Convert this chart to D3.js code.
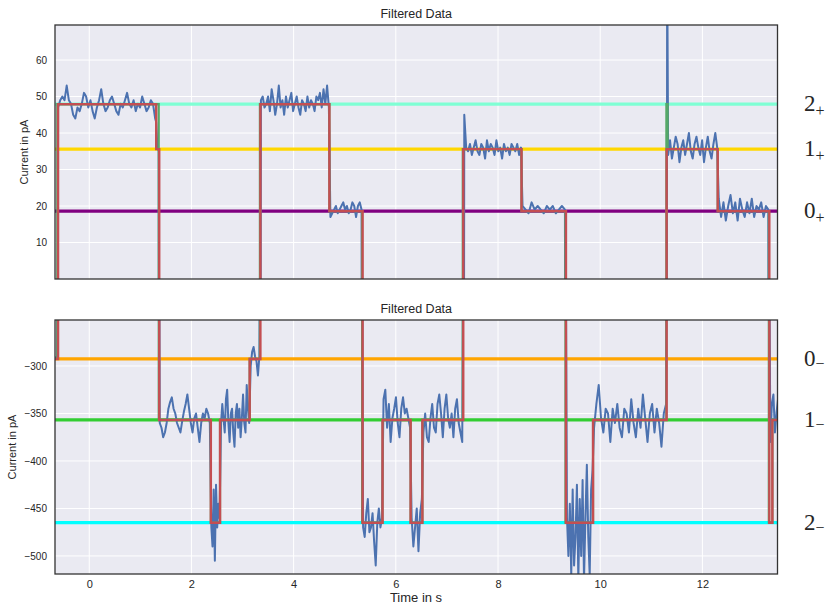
<!DOCTYPE html>
<html><head><meta charset="utf-8">
<script src="https://cdn.jsdelivr.net/npm/d3@7"></script>
<style>body{margin:0;background:#fff}svg{display:block}text{font-family:"Liberation Sans",Arial,sans-serif;fill:#262626}</style>
</head><body><svg id="c" width="837" height="605"></svg>
<script>
// ---- data ----
const xTicks = [0, 2, 4, 6, 8, 10, 12];
const topYTicks = [10, 20, 30, 40, 50, 60];
const botYTicks = [-300, -350, -400, -450, -500];
const topLevels = [47.9, 35.6, 18.6];
const topLevelNames = ["2", "1", "0"];
const topLevelColors = ["#7fffd4", "#ffd700", "#800080"];
const botLevels = [-292.6, -356.8, -465.0];
const botLevelNames = ["0", "1", "2"];
const botLevelColors = ["#ffa500", "#32cd32", "#00ffff"];

// blue trace: segments [t0, t1, values]
const blueSegments = [
  [-0.68, -0.63, [-292, -290]],
  [-0.61, 1.29, [47, 49, 50, 49, 53, 49, 48, 45, 44, 47, 46, 48, 51, 50, 47, 49, 46, 44, 47, 49, 52, 48, 46, 47, 49, 50, 48, 46, 45, 48, 47, 49, 51, 48, 47, 49, 46, 48, 47, 50, 48, 46, 47, 49, 48, 44]],
  [1.31, 1.36, [43, 36, 35]],
  [1.38, 2.36, [-360, -365, -375, -370, -360, -345, -338, -333, -345, -350, -360, -365, -370, -358, -348, -340, -330, -345, -360, -370, -355, -350, -365, -380, -360, -350, -355, -345, -350, -360]],
  [2.39, 2.55, [-470, -490, -430, -505, -425, -470, -445, -460]],
  [2.58, 3.13, [-360, -340, -355, -370, -335, -325, -360, -380, -350, -345, -370, -385, -350, -340, -365, -345, -375, -355, -330, -360, -370, -320, -345, -360]],
  [3.16, 3.33, [-300, -285, -280, -290, -295, -310, -290]],
  [3.36, 4.69, [49, 50, 47, 48, 50, 46, 52, 49, 45, 48, 53, 47, 49, 45, 50, 47, 49, 51, 46, 48, 50, 47, 45, 49, 48, 46, 50, 47, 49, 48, 46, 50, 49, 51, 47, 52, 48, 53, 47]],
  [4.72, 5.33, [17, 18, 19, 20, 18, 19, 20, 21, 19, 20, 18, 19, 21, 20, 17, 20, 21, 19]],
  [5.36, 5.73, [-470, -480, -455, -440, -475, -470, -455, -485, -510, -465, -450, -470, -460]],
  [5.76, 6.28, [-335, -325, -365, -340, -380, -355, -345, -333, -360, -375, -345, -333, -350, -345, -355, -365]],
  [6.31, 6.51, [-460, -490, -470, -450, -495, -455, -440]],
  [6.54, 7.30, [-370, -350, -375, -380, -355, -340, -365, -370, -340, -330, -350, -375, -345, -330, -355, -365, -350, -375, -345, -335, -360, -370, -380]],
  [7.34, 8.45, [45, 36, 35, 37, 34, 36, 38, 35, 34, 37, 36, 33, 38, 35, 37, 36, 34, 38, 35, 36, 33, 37, 35, 36, 34, 37, 36, 35, 37, 34, 36]],
  [8.48, 9.31, [20, 19, 18, 21, 19, 20, 19, 18, 20, 19, 20, 18, 19, 20, 19]],
  [9.35, 9.85, [-460, -500, -445, -520, -430, -510, -480, -425, -525, -440, -500, -420, -525, -460, -404, -480, -520, -430, -410]],
  [9.88, 11.29, [-365, -340, -320, -355, -370, -345, -350, -380, -345, -360, -340, -365, -375, -345, -350, -370, -335, -360, -375, -345, -365, -330, -355, -380, -350, -340, -370, -345, -360, -385, -350, -340]],
  [11.31, 11.31, [90]],
  [11.33, 12.29, [34, 38, 33, 36, 39, 37, 32, 36, 38, 34, 37, 40, 35, 33, 37, 39, 36, 34, 38, 32, 36, 39, 35, 33, 37, 40, 36]],
  [12.32, 13.29, [22, 17, 21, 16, 20, 23, 18, 21, 16, 22, 19, 17, 21, 18, 22, 17, 20, 19, 21, 17, 20, 19]],
  [13.33, 13.48, [-380, -340, -330, -370, -350, -335]]
];

// fitted step (red): change times and new levels
const fitTimes  = [-0.68, -0.61, 1.31, 1.37, 2.38, 2.56, 3.14, 3.35, 4.70, 5.35, 5.74, 6.29, 6.52, 7.32, 8.46, 9.33, 9.86, 11.30, 12.30, 13.31, 13.37, 13.48];
const fitLevels = [-292.6, 47.9, 35.6, -356.8, -465.0, -356.8, -292.6, 47.9, 18.6, -465.0, -356.8, -465.0, -356.8, 35.6, 18.6, -465.0, -356.8, 35.6, 18.6, -465.0, -356.8, -356.8];
// second estimate (green), mostly hidden beneath the red
const greenTimes  = [-0.68, -0.625, 1.36, 2.38, 2.56, 3.14, 3.34, 4.70, 5.34, 5.74, 6.29, 6.52, 7.31, 8.46, 9.32, 9.86, 11.295, 11.32, 12.30, 13.30, 13.37, 13.48];
const greenLevels = [-292.6, 47.9, -356.8, -465.0, -356.8, -292.6, 47.9, 18.6, -465.0, -356.8, -465.0, -356.8, 35.6, 18.6, -465.0, -356.8, 47.9, 35.6, 18.6, -465.0, -356.8, -356.8];

// ---- drawing ----
const svg = d3.select("#c");
const L = 55, R = 777.5;
const x = d3.scaleLinear().domain([-0.67, 13.47]).range([L, R]);

const bluePts = [];
blueSegments.forEach(([t0, t1, vals]) => {
  vals.forEach((v, i) => {
    const t = vals.length === 1 ? t0 : t0 + (t1 - t0) * i / (vals.length - 1);
    bluePts.push([t, v]);
  });
});
const stepPts = (ts, ls) => ts.map((t, i) => [t, ls[i]]);

function panel(id, top, bottom, domain, yTicks, levels, levelNames, levelColors, sign, ylabelX) {
  const y = d3.scaleLinear().domain(domain).range([bottom, top]);
  const g = svg.append("g");
  g.append("rect").attr("x", L).attr("y", top).attr("width", R - L).attr("height", bottom - top).attr("fill", "#eaeaf2");
  g.append("clipPath").attr("id", id).append("rect").attr("x", L).attr("y", top).attr("width", R - L).attr("height", bottom - top);
  // grid
  g.selectAll(".gx").data(xTicks).join("line").attr("x1", d => x(d)).attr("x2", d => x(d)).attr("y1", top).attr("y2", bottom).attr("stroke", "#fff").attr("stroke-width", 1);
  g.selectAll(".gy").data(yTicks).join("line").attr("x1", L).attr("x2", R).attr("y1", d => y(d)).attr("y2", d => y(d)).attr("stroke", "#fff").attr("stroke-width", 1);
  const c = g.append("g").attr("clip-path", `url(#${id})`);
  // levels
  c.selectAll(".lv").data(levels).join("line").attr("x1", L).attr("x2", R).attr("y1", d => y(d)).attr("y2", d => y(d)).attr("stroke", (d, i) => levelColors[i]).attr("stroke-width", 3.2);
  const line = d3.line().x(d => x(d[0])).y(d => y(d[1]));
  const sline = d3.line().x(d => x(d[0])).y(d => y(d[1])).curve(d3.curveStepAfter);
  c.append("path").attr("d", line(bluePts)).attr("fill", "none").attr("stroke", "#4c72b0").attr("stroke-width", 2).attr("stroke-linejoin", "round");
  c.append("path").attr("d", sline(stepPts(greenTimes, greenLevels))).attr("fill", "none").attr("stroke", "#55a868").attr("stroke-width", 2.2);
  c.append("path").attr("d", sline(stepPts(fitTimes, fitLevels))).attr("fill", "none").attr("stroke", "#c44e52").attr("stroke-width", 2.4);
  // frame
  g.append("rect").attr("x", L).attr("y", top).attr("width", R - L).attr("height", bottom - top).attr("fill", "none").attr("stroke", "#333").attr("stroke-width", 1.3);
  // y axis labels
  const ya = d3.axisLeft(y).tickValues(yTicks).tickSize(0).tickPadding(8).tickFormat(d => d < 0 ? "\u2212" + Math.abs(d) : d);
  const yg = g.append("g").attr("transform", `translate(${L},0)`).call(ya);
  yg.select(".domain").remove();
  yg.selectAll("text").style("font-size", "10px").attr("fill", "#262626").style("font-family", "Liberation Sans, Arial, sans-serif");
  g.append("text").attr("transform", `translate(${ylabelX},${(top + bottom) / 2}) rotate(-90)`).attr("text-anchor", "middle").style("font-size", "11px").text("Current in pA");
  g.append("text").attr("x", (L + R) / 2).attr("y", top - 7).attr("text-anchor", "middle").style("font-size", "12.5px").text("Filtered Data");
  // right state labels
  levels.forEach((lv, i) => {
    const t = svg.append("text").attr("x", 804).attr("y", y(lv) + 7).style("font-family", "Liberation Serif, 'DejaVu Serif', serif").style("font-size", "23px").attr("fill", "#000");
    t.append("tspan").text(levelNames[i]);
    t.append("tspan").attr("dy", sign === "+" ? 5 : 3).style("font-size", "16px").text(sign === "+" ? "+" : "\u2212");
  });
  return y;
}

panel("cp1", 25, 279, [0, 69.6], topYTicks, topLevels, topLevelNames, topLevelColors, "+", 28);
panel("cp2", 320, 574, [-519, -251.6], botYTicks, botLevels, botLevelNames, botLevelColors, "-", 16);

// x axis (bottom panel only)
const xa = d3.axisBottom(x).tickValues(xTicks).tickSize(0).tickPadding(6);
const xg = svg.append("g").attr("transform", "translate(0,574)").call(xa);
xg.select(".domain").remove();
xg.selectAll("text").style("font-size", "11px").attr("fill", "#262626").style("font-family", "Liberation Sans, Arial, sans-serif");
svg.append("text").attr("x", 416).attr("y", 602).attr("text-anchor", "middle").style("font-size", "13px").text("Time in s");
</script></body></html>
